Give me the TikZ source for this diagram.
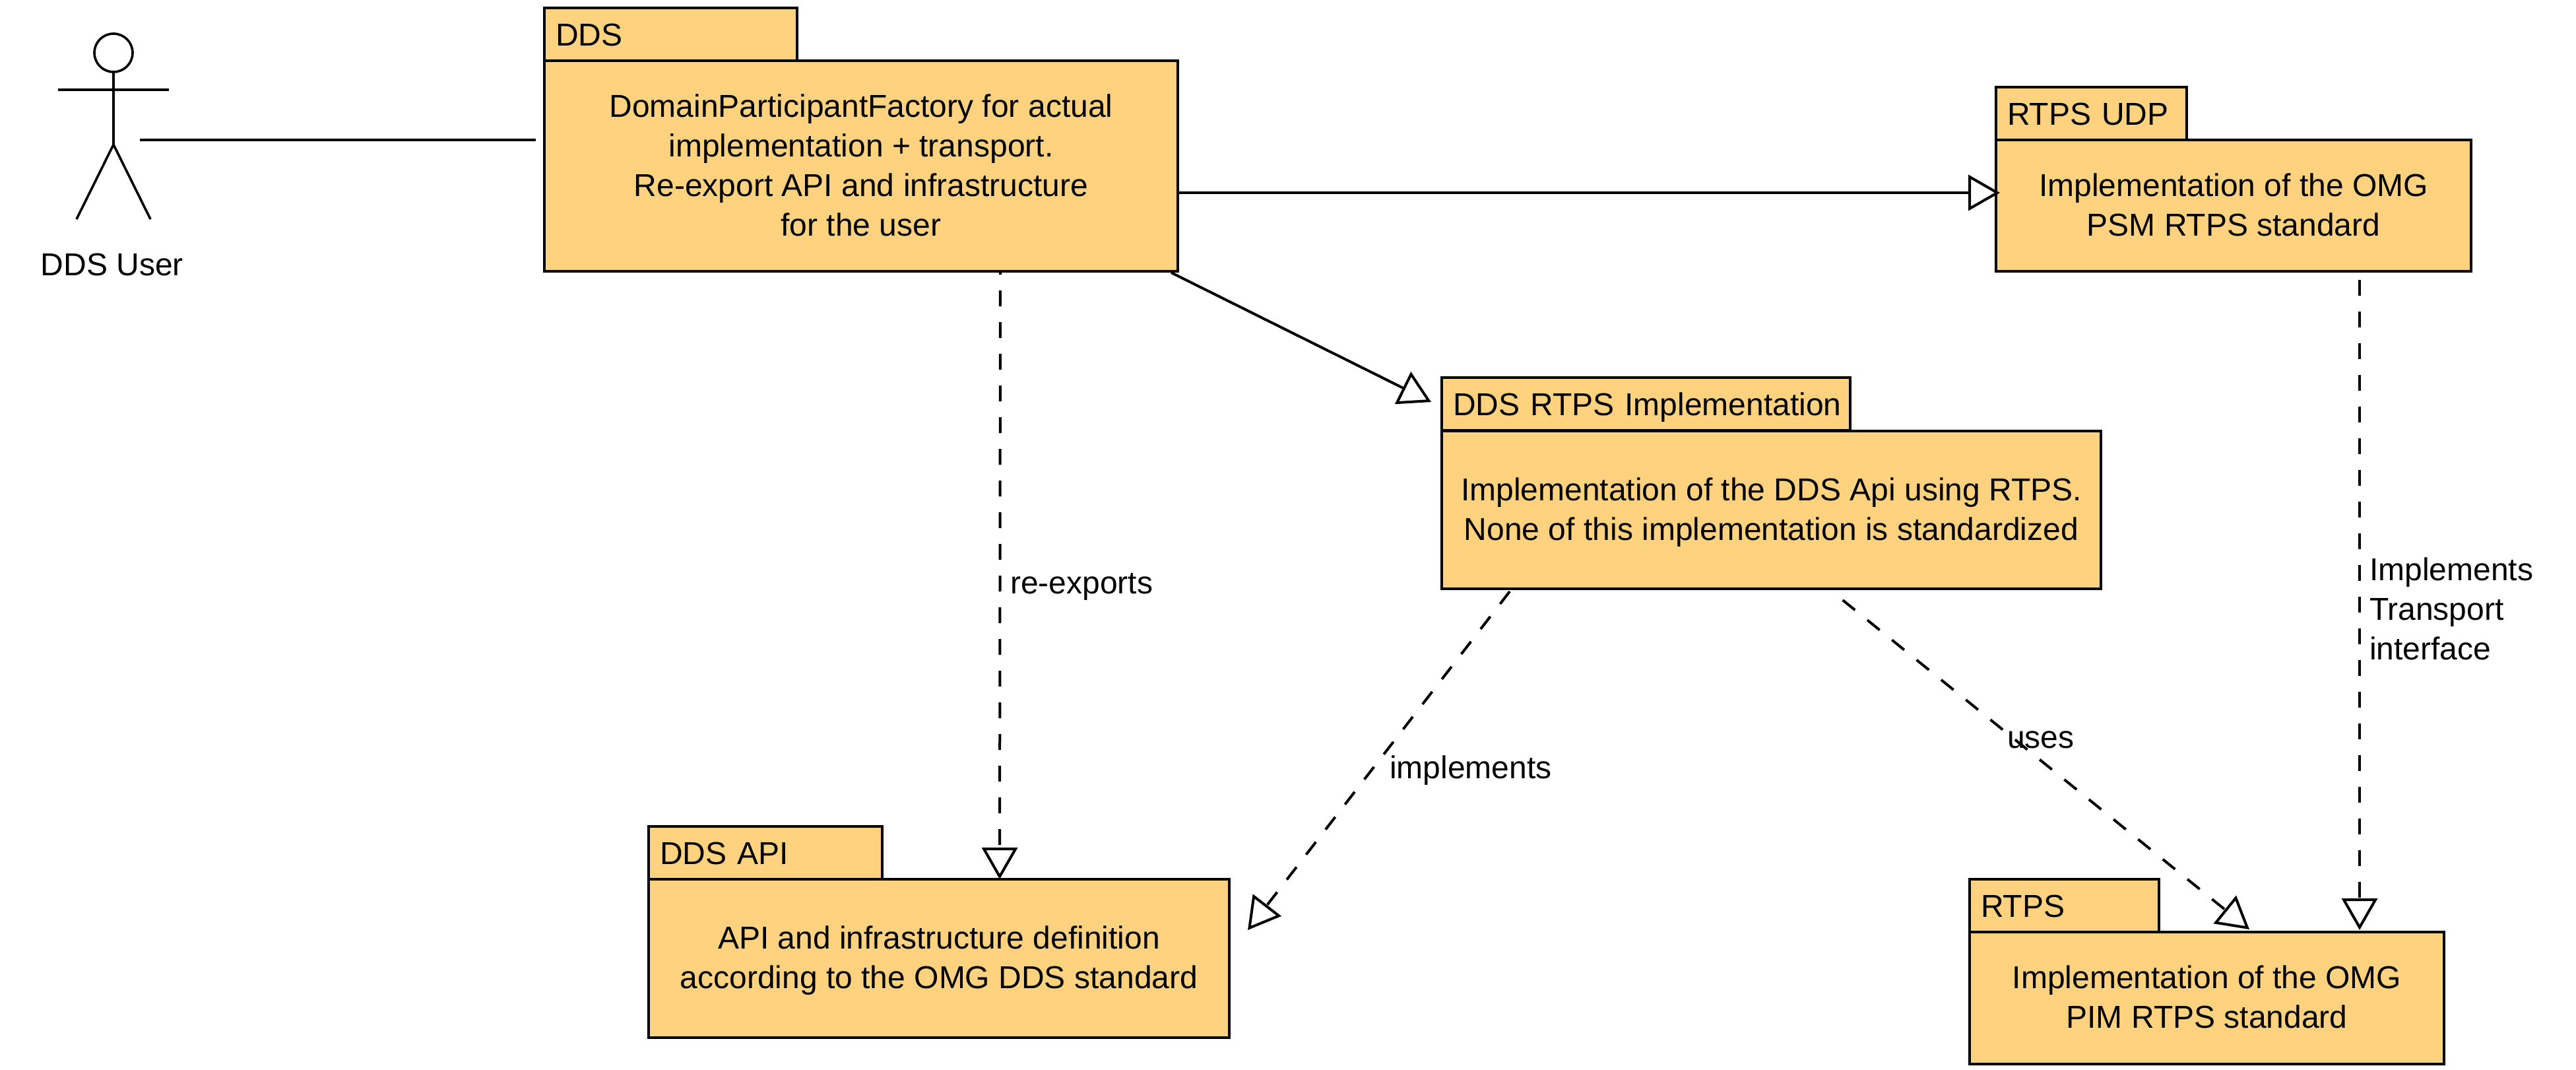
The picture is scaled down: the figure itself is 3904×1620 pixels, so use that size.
\documentclass[tikz,border=0pt]{standalone}
\usepackage{fontspec}
\setmainfont{Liberation Sans}
\usetikzlibrary{arrows.meta}
\definecolor{pkgfill}{HTML}{FFD280}
\newcommand{\tabstrut}{\rule[-3.4pt]{0pt}{15.4pt}}
\newcommand{\topstrut}{\rule{0pt}{11.8pt}}
\newcommand{\botstrut}{\rule[-4pt]{0pt}{4pt}}
\tikzset{
  x=0.25pt,y=-0.25pt,
  txt/.style={font=\fontsize{12}{15}\selectfont,text=black,inner sep=0pt,outer sep=0pt},
  tabbox/.style={txt,draw=black,line width=1pt,fill=pkgfill,anchor=north west,align=left,
    inner xsep=4.25pt,minimum height=20pt,minimum width=#1*0.25pt,text width=#1*0.25pt-8.5pt},
  bodybox/.style={txt,draw=black,line width=1pt,fill=pkgfill,anchor=north west,align=center},
  lbl/.style={txt,anchor=base west},
  hollow/.style={-{Triangle[open,length=12pt,width=13.5pt,line width=1pt,sharp]}},
  solidlink/.style={draw=black,line width=1pt},
  dashlink/.style={draw=black,line width=1pt,dash pattern=on 6pt off 6pt},
  limb/.style={draw=black,line width=0.9pt}
}
\begin{document}
\begin{tikzpicture}
\useasboundingbox (0,0) rectangle (3904,1620);
% actor
\node[draw=black,line width=0.9pt,circle,minimum size=14.5pt,inner sep=0pt,outer sep=0pt] (head) at (172,80) {};
\coordinate (hip) at (172,219);
\coordinate (armL) at (88,136);
\coordinate (armR) at (256,136);
\coordinate (footL) at (116,332);
\coordinate (footR) at (228,332);
\draw[limb] (head.south) -- (hip);
\draw[draw=black,line width=1pt] (armL) -- (armR);
\draw[limb] (footL) -- (hip) -- (footR);
\node[txt,anchor=base] (actorlabel) at (170,417) {DDS User};
% packages
\node[tabbox=383] (ddstab) at (825,12) {\mbox{\tabstrut DDS}};
\node[bodybox,minimum width=240pt,minimum height=79.75pt] (ddsbody) at (825,92) {\topstrut DomainParticipantFactory for actual\\implementation + transport.\\Re-export API and infrastructure\\for the user\botstrut};
\node[tabbox=289] (udptab) at (3025,132) {\mbox{\tabstrut RTPS UDP}};
\node[bodybox,minimum width=180pt,minimum height=49.75pt] (udpbody) at (3025,212) {\topstrut Implementation of the OMG\\PSM RTPS standard\botstrut};
\node[tabbox=619] (impltab) at (2185,572) {\mbox{\tabstrut DDS RTPS Implementation}};
\node[bodybox,minimum width=249.75pt,minimum height=59.75pt] (implbody) at (2185,653) {\topstrut Implementation of the DDS Api using RTPS.\\None of this implementation is standardized\botstrut};
\node[tabbox=354] (apitab) at (983,1252) {\mbox{\tabstrut DDS API}};
\node[bodybox,minimum width=220pt,minimum height=60pt] (apibody) at (983,1332) {\topstrut API and infrastructure definition\\according to the OMG DDS standard\botstrut};
\node[tabbox=287] (rtpstab) at (2985,1332) {\mbox{\tabstrut RTPS}};
\node[bodybox,minimum width=179.75pt,minimum height=50pt] (rtpsbody) at (2985,1412) {\topstrut Implementation of the OMG\\PIM RTPS standard\botstrut};
% connectors
\draw[solidlink] ([shift={(40,-7)}]hip) -- ([shift={(-13,-39.5)}]ddsbody.west);
\draw[solidlink,hollow] ([shift={(0,40.5)}]ddsbody.east) -- ([shift={(6,-19.5)}]udpbody.west);
\draw[solidlink,hollow] ([shift={(-10,2)}]ddsbody.south east) -- ([shift={(-16,-44)}]implbody.north west);
\draw[dashlink,dash phase=4.75pt,hollow] ([shift={(211,0)}]ddsbody.south) -- ([shift={(92,0)}]apibody.north);
\draw[dashlink,hollow] ([shift={(-396.5,4)}]implbody.south) -- ([shift={(28,-43)}]apibody.east);
\draw[dashlink,dash phase=6pt,hollow] ([shift={(89.5,2)}]implbody.south) -- ([shift={(64.5,-4)}]rtpsbody.north);
\draw[dashlink,hollow] ([shift={(191,13)}]udpbody.south) -- ([shift={(231.5,-3)}]rtpsbody.north);
% labels
\node[lbl] (reexp) at (1531,899) {re-exports};
\node[lbl] (impl) at (2106,1179) {implements};
\node[lbl] (uses) at (3042,1133) {uses};
\node[txt,anchor=west,align=left] (transp) at (3591,923.4) {\topstrut Implements\\Transport\\interface\botstrut};
\end{tikzpicture}
\end{document}
